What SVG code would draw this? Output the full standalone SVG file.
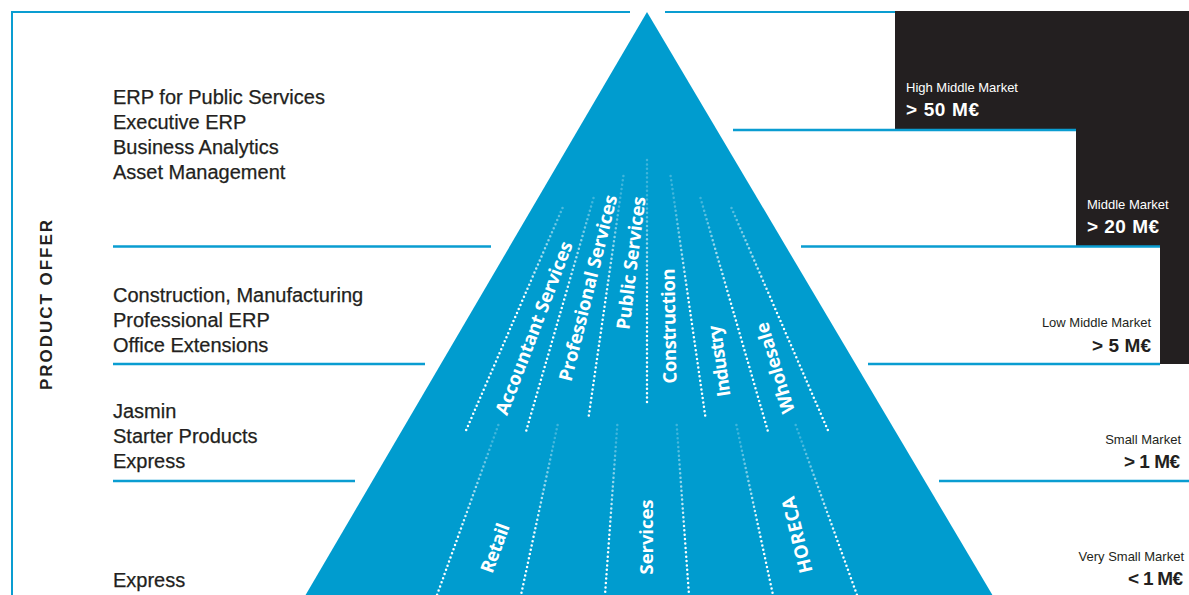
<svg xmlns="http://www.w3.org/2000/svg" width="1189" height="595" viewBox="0 0 1189 595">
<defs>
<linearGradient id="gUp" gradientUnits="userSpaceOnUse" x1="0" y1="200" x2="0" y2="300">
<stop offset="0" stop-color="#fff" stop-opacity="0.25"/>
<stop offset="1" stop-color="#fff" stop-opacity="1"/>
</linearGradient>
<linearGradient id="gLow" gradientUnits="userSpaceOnUse" x1="0" y1="440" x2="0" y2="535">
<stop offset="0" stop-color="#fff" stop-opacity="0.25"/>
<stop offset="1" stop-color="#fff" stop-opacity="1"/>
</linearGradient>
</defs>
<style>
.frame{stroke:#0a9dd1;stroke-width:2;fill:none}
.sep{stroke:#0a9dd1;stroke-width:2.3;fill:none}
.dotU{stroke:url(#gUp);stroke-width:2.5;stroke-linecap:round;stroke-dasharray:0 4.4;fill:none}
.dotL{stroke:url(#gLow);stroke-width:2.5;stroke-linecap:round;stroke-dasharray:0 4.4;fill:none}
.prod{font-family:"Liberation Sans",Arial,sans-serif;font-size:20px;fill:#231f20;stroke:#231f20;stroke-width:0.25}
.seg{font-family:"Open Sans","Liberation Sans",sans-serif;font-weight:bold;font-size:18.5px;fill:#fff;text-anchor:middle}
.mk{font-family:"Liberation Sans",Arial,sans-serif;font-size:13px}
.val{font-family:"Liberation Sans",Arial,sans-serif;font-size:19px;font-weight:bold}
.lt{fill:#fff}
.dk{fill:#231f20}
.end{text-anchor:end}
</style>
<rect width="1189" height="595" fill="#fff"/>

<g id="frame">
<path class="frame" d="M12,596 V12 H630"/>
<path class="frame" d="M665,12 H895"/>
</g>

<g id="dark-steps">
<path d="M895,11 H1189 V364 H1160 V246 H1076 V130 H895 Z" fill="#231f20"/>
</g>

<g id="pyramid">
<polygon points="647,12 305,596 993,596" fill="#009ccf"/>
</g>

<g id="connectors">
<line class="sep" x1="733" y1="130" x2="1076" y2="130"/>
<line class="sep" x1="113" y1="246.5" x2="491" y2="246.5"/>
<line class="sep" x1="801" y1="246.5" x2="1160" y2="246.5"/>
<line class="sep" x1="113" y1="364" x2="425" y2="364"/>
<line class="sep" x1="868" y1="364" x2="1160" y2="364"/>
<line class="sep" x1="113" y1="481" x2="355" y2="481"/>
<line class="sep" x1="939" y1="481" x2="1189" y2="481"/>
<!-- upper dotted dividers -->
<line class="dotU" x1="562.5" y1="208" x2="464.9" y2="433"/>
<line class="dotU" x1="593.5" y1="198" x2="525.6" y2="433"/>
<line class="dotU" x1="623.4" y1="176" x2="588.6" y2="417"/>
<line class="dotU" x1="647" y1="160" x2="647" y2="404"/>
<line class="dotU" x1="670.6" y1="176" x2="705.4" y2="417"/>
<line class="dotU" x1="700.5" y1="198" x2="768.4" y2="433"/>
<line class="dotU" x1="731.5" y1="208" x2="829.1" y2="433"/>
<!-- lower dotted dividers -->
<line class="dotL" x1="498.3" y1="425" x2="437" y2="595"/>
<line class="dotL" x1="557.6" y1="425" x2="521" y2="595"/>
<line class="dotL" x1="617.3" y1="425" x2="605" y2="595"/>
<line class="dotL" x1="676.7" y1="425" x2="689" y2="595"/>
<line class="dotL" x1="736.4" y1="425" x2="773" y2="595"/>
<line class="dotL" x1="795.7" y1="425" x2="857" y2="595"/>
</g>

<g id="axis-label">
<text transform="translate(52,305) rotate(-90)" text-anchor="middle" font-family="Liberation Sans,Arial,sans-serif" font-weight="bold" font-size="17" fill="#231f20" textLength="170">PRODUCT OFFER</text>
</g>

<g id="offer-high" class="prod">
<text x="113" y="104">ERP for Public Services</text>
<text x="113" y="129">Executive ERP</text>
<text x="113" y="154">Business Analytics</text>
<text x="113" y="179">Asset Management</text>
</g>
<g id="offer-mid" class="prod">
<text x="113" y="301.5">Construction, Manufacturing</text>
<text x="113" y="326.5">Professional ERP</text>
<text x="113" y="351.5">Office Extensions</text>
</g>
<g id="offer-small" class="prod">
<text x="113" y="418">Jasmin</text>
<text x="113" y="443">Starter Products</text>
<text x="113" y="468">Express</text>
</g>
<g id="offer-verysmall" class="prod">
<text x="113" y="586.5">Express</text>
</g>

<g id="segments-upper">
<text class="seg" transform="translate(534,328) rotate(-69)" dy="0.35em" textLength="184">Accountant Services</text>
<text class="seg" transform="translate(588,288) rotate(-76)" dy="0.35em" textLength="191">Professional Services</text>
<text class="seg" transform="translate(631,263) rotate(-83)" dy="0.35em" textLength="134">Public Services</text>
<text class="seg" transform="translate(669,326) rotate(-91)" dy="0.35em" textLength="115">Construction</text>
<text class="seg" transform="translate(719,361) rotate(-98)" dy="0.35em" textLength="72">Industry</text>
<text class="seg" transform="translate(775,368) rotate(-107)" dy="0.35em" textLength="94">Wholesale</text>
</g>
<g id="segments-lower">
<text class="seg" transform="translate(495,548) rotate(-70)" dy="0.35em" textLength="51">Retail</text>
<text class="seg" transform="translate(647,537) rotate(-90)" dy="0.35em" textLength="75">Services</text>
<text class="seg" transform="translate(797,535) rotate(-104)" dy="0.35em" textLength="78">HORECA</text>
</g>

<g id="market-high-middle">
<text class="mk lt" x="906" y="92">High Middle Market</text>
<text class="val lt" x="906" y="115.5" textLength="73">&gt; 50 M€</text>
</g>
<g id="market-middle">
<text class="mk lt" x="1087" y="208.5">Middle Market</text>
<text class="val lt" x="1087" y="233" textLength="72">&gt; 20 M€</text>
</g>
<g id="market-low-middle">
<text class="mk dk end" x="1151" y="327">Low Middle Market</text>
<text class="val dk end" x="1151" y="351.5" textLength="59">&gt; 5 M€</text>
</g>
<g id="market-small">
<text class="mk dk end" x="1181" y="444">Small Market</text>
<text class="val dk end" x="1180" y="468" textLength="56">&gt; 1 M€</text>
</g>
<g id="market-very-small">
<text class="mk dk end" x="1184" y="561">Very Small Market</text>
<text class="val dk end" x="1183" y="585" textLength="55">&lt; 1 M€</text>
</g>
</svg>
